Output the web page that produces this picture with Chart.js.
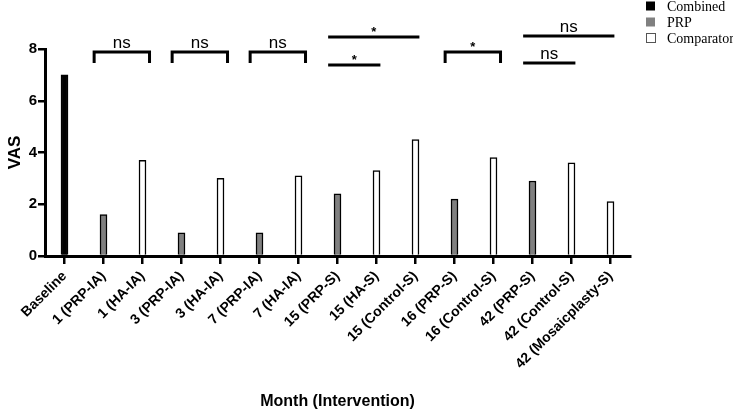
<!DOCTYPE html>
<html>
<head>
<meta charset="utf-8">
<script src="https://cdn.jsdelivr.net/npm/chart.js@4/dist/chart.umd.min.js"></script>
<style>
  html, body { margin: 0; padding: 0; background: #fff; }
  #wrap { width: 733px; height: 412px; }
</style>
</head>
<body>
<div id="wrap"><canvas id="c"></canvas></div>
<script>
const categories = ['Baseline', '1 (PRP-IA)', '1 (HA-IA)', '3 (PRP-IA)', '3 (HA-IA)', '7 (PRP-IA)', '7 (HA-IA)',
  '15 (PRP-S)', '15 (HA-S)', '15 (Control-S)', '16 (PRP-S)', '16 (Control-S)',
  '42 (PRP-S)', '42 (Control-S)', '42 (Mosaicplasty-S)'];
const combined =   [7.0, null, null, null, null, null, null, null, null, null, null, null, null, null, null];
const prp =        [null, 1.6, null, 0.9, null, 0.9, null, 2.4, null, null, 2.2, null, 2.9, null, null];
const comparator = [null, null, 3.7, null, 3.0, null, 3.1, null, 3.3, 4.5, null, 3.8, null, 3.6, 2.1];
const yTicks = [0, 2, 4, 6, 8];

// significance marks: from/to category index, bar height (VAS units), label, legs or flat line
const brackets = [
  { from: 1, to: 2, y: 7.88, label: 'ns', legs: true },
  { from: 3, to: 4, y: 7.88, label: 'ns', legs: true },
  { from: 5, to: 6, y: 7.88, label: 'ns', legs: true },
  { from: 7, to: 9, y: 8.46, label: '*', legs: false },
  { from: 7, to: 8, y: 7.38, label: '*', legs: false },
  { from: 10, to: 11, y: 7.88, label: '*', legs: true },
  { from: 12, to: 14, y: 8.5, label: 'ns', legs: false },
  { from: 12, to: 13, y: 7.46, label: 'ns', legs: false }
];

const sans = '"Liberation Sans", Arial, sans-serif';

const bracketPlugin = {
  id: 'brackets',
  afterDraw(chart) {
    const { ctx, scales: { x, y } } = chart;
    const step = x.getPixelForValue(1) - x.getPixelForValue(0);
    ctx.save();
    ctx.strokeStyle = '#000';
    ctx.fillStyle = '#000';
    ctx.lineWidth = 3;
    brackets.forEach(b => {
      const x1 = x.getPixelForValue(b.from) - step * 0.24;
      const x2 = x.getPixelForValue(b.to) + step * (b.legs ? 0.18 : 0.1);
      const py = y.getPixelForValue(b.y);
      ctx.beginPath();
      if (b.legs) {
        ctx.moveTo(x1, py + 11); ctx.lineTo(x1, py); ctx.lineTo(x2, py); ctx.lineTo(x2, py + 11);
      } else {
        ctx.moveTo(x1, py); ctx.lineTo(x2, py);
      }
      ctx.stroke();
      ctx.textAlign = 'center';
      ctx.textBaseline = 'alphabetic';
      if (b.label === 'ns') {
        ctx.font = '17px ' + sans;
        ctx.fillText('ns', (x1 + x2) / 2, py - 4);
      } else {
        ctx.font = 'bold 13px ' + sans;
        ctx.fillText('*', (x1 + x2) / 2, py - 1);
      }
    });
    ctx.restore();
  }
};

const legendPlugin = {
  id: 'boxLegend',
  afterDraw(chart) {
    const { ctx } = chart;
    ctx.save();
    ctx.font = '14px "Liberation Serif", "Times New Roman", serif';
    ctx.textBaseline = 'middle';
    ctx.textAlign = 'left';
    chart.data.datasets.forEach((ds, i) => {
      const cy = 6 + i * 16;
      ctx.fillStyle = ds.backgroundColor;
      ctx.fillRect(646, cy - 4.5, 9, 9);
      if (ds.backgroundColor === '#ffffff') {
        ctx.strokeStyle = '#555';
        ctx.lineWidth = 1;
        ctx.strokeRect(646.5, cy - 4.5, 9, 9);
      }
      ctx.fillStyle = '#000';
      ctx.fillText(ds.label, 667, cy + 1);
    });
    ctx.restore();
  }
};

new Chart(document.getElementById('c'), {
  type: 'bar',
  data: {
    labels: categories,
    datasets: [
      { label: 'Combined', data: combined, backgroundColor: '#000000', borderColor: '#000', borderWidth: 1.5 },
      { label: 'PRP', data: prp, backgroundColor: '#808080', borderColor: '#000', borderWidth: 1.5 },
      { label: 'Comparator', data: comparator, backgroundColor: '#ffffff', borderColor: '#000', borderWidth: 1.5 }
    ]
  },
  options: {
    responsive: true,
    maintainAspectRatio: false,
    animation: false,
    skipNull: true,
    barThickness: 7,
    layout: { padding: { top: 49, right: 103, left: 0, bottom: 0 } },
    plugins: { legend: { display: false }, tooltip: { enabled: false } },
    scales: {
      x: {
        grid: { display: true, offset: false, drawOnChartArea: false, drawTicks: true, tickLength: 8, lineWidth: 2.5, color: '#000' },
        border: { display: true, color: '#000', width: 3 },
        ticks: { color: '#000', font: { family: sans, weight: 'bold', size: 14 }, minRotation: 45, maxRotation: 45, autoSkip: false, padding: 4 },
        title: { display: true, text: 'Month (Intervention)', color: '#000', font: { family: sans, weight: 'bold', size: 16 }, padding: { top: 0, bottom: 1 } },
        afterFit: s => { s.height = 156; }
      },
      y: {
        min: 0, max: 8,
        afterBuildTicks: s => { s.ticks = yTicks.map(v => ({ value: v })); },
        grid: { display: true, drawOnChartArea: false, drawTicks: true, tickLength: 7, lineWidth: 2.5, color: '#000' },
        border: { display: true, color: '#000', width: 3 },
        ticks: { color: '#000', font: { family: sans, weight: 'bold', size: 15 }, padding: 1 },
        title: { display: true, text: 'VAS', color: '#000', font: { family: sans, weight: 'bold', size: 17 }, padding: { top: 5, bottom: 0 } },
        afterFit: s => { s.width = 45; }
      }
    }
  },
  plugins: [bracketPlugin, legendPlugin]
});
</script>
</body>
</html>
